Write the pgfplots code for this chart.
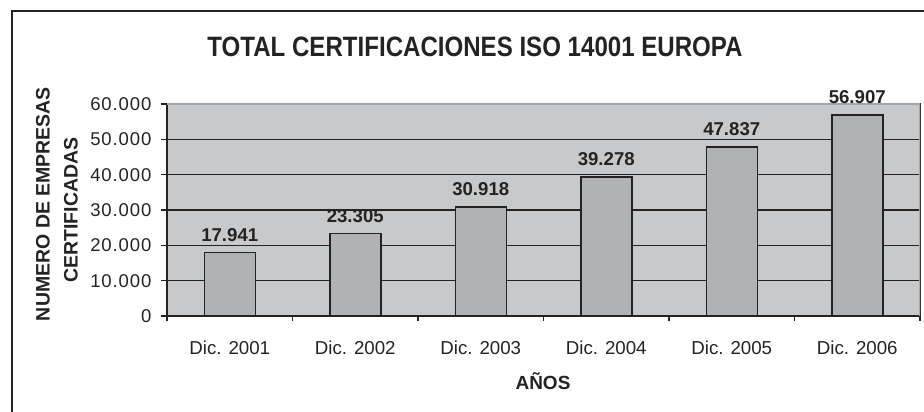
\documentclass[border=0pt]{standalone}
\usepackage{fontspec}
\usepackage{graphicx}
\setmainfont{Liberation Sans}
\newfontfamily\tickfont[LetterSpace=5]{Liberation Sans}
\usepackage{pgfplots}
\pgfplotsset{compat=1.18}
\definecolor{bgc}{RGB}{200,201,203}
\definecolor{barc}{RGB}{177,178,181}
\definecolor{linec}{RGB}{35,35,35}
\begin{document}
\begin{tikzpicture}
\useasboundingbox (0pt,0pt) rectangle (924pt,412pt);
\draw[line width=2pt, linec] (12pt,-5pt) -- (12pt,401pt) -- (930pt,401pt);
\node[font=\bfseries\fontsize{28}{28}\selectfont, text=linec] at (475pt,365pt) {\scalebox{0.86}[1]{TOTAL CERTIFICACIONES ISO 14001 EUROPA}};
\node[rotate=90, font=\bfseries\fontsize{19.5}{19.5}\selectfont, text=linec] at (43pt,208pt) {NUMERO DE EMPRESAS};
\node[rotate=90, font=\bfseries\fontsize{19.5}{19.5}\selectfont, text=linec] at (71pt,202pt) {CERTIFICADAS};
\node[font=\bfseries\fontsize{19}{19}\selectfont, text=linec] at (543pt,31pt) {AÑOS};
\begin{axis}[
  at={(167pt,96pt)}, anchor=south west,
  scale only axis, width=753pt, height=212pt,
  xmin=-0.5, xmax=5.5, ymin=0, ymax=60000,
  scaled y ticks=false,
  axis background/.style={fill=bgc},
  axis line style={linec, line width=1.5pt},
  ybar, bar width=51pt,
  xtick={0,1,2,3,4,5},
  xticklabels={Dic. 2001,Dic. 2002,Dic. 2003,Dic. 2004,Dic. 2005,Dic. 2006},
  minor xtick={-0.5,0.5,1.5,2.5,3.5,4.5,5.5},
  major x tick style={draw=none},
  minor x tick style={linec, line width=1.2pt},
  minor tick length=5pt,
  ytick={0,10000,20000,30000,40000,50000,60000},
  yticklabels={0,10.000,20.000,30.000,40.000,50.000,60.000},
  y tick style={linec, line width=1.2pt},
  major tick length=6pt,
  tick align=outside,
  xtick pos=bottom, ytick pos=left,
  ymajorgrids,
  grid style={linec, line width=1.6pt},
  /pgf/number format/assume math mode=true,
  x tick label style={font=\fontsize{18.7}{18.7}\selectfont, text=linec, yshift=-15pt},
  y tick label style={font=\tickfont\fontsize{18.5}{18.5}\selectfont, text=linec, xshift=-6pt},
]
\addplot[fill=barc, draw=linec, line width=1.5pt,
  nodes near coords, point meta=explicit symbolic,
  every node near coord/.append style={font=\bfseries\fontsize{18.6}{18.6}\selectfont, text=linec, yshift=7pt}]
  table[meta=lbl] {
x y lbl
0 17941 17.941
1 23305 23.305
2 30918 30.918
3 39278 39.278
4 47837 47.837
5 56907 56.907
};
\draw[line width=1.5pt, black!35] (rel axis cs:0,1) -- (rel axis cs:1,1) -- (rel axis cs:1,0);
\end{axis}
\end{tikzpicture}
\end{document}
